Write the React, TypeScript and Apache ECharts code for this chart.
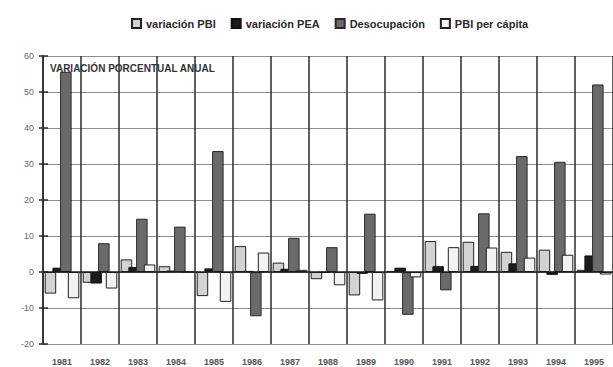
import React, { useEffect, useRef } from "react";
import * as echarts from "echarts";

const years = ["1981","1982","1983","1984","1985","1986","1987","1988","1989","1990","1991","1992","1993","1994","1995"];
const variacionPBI = [-6.0, -3.0, 3.5, 1.6, -6.7, 7.2, 2.6, -2.0, -6.5, 0.3, 8.6, 8.4, 5.6, 6.2, 0.6];
const variacionPEA = [1.2, -3.2, 1.4, 0.4, 1.0, 0.3, 0.9, -0.2, -0.5, 1.2, 1.6, 1.7, 2.4, -0.8, 4.6];
const desocupacion = [55.6, 8.0, 14.8, 12.6, 33.6, -12.3, 9.5, 6.9, 16.2, -11.9, -5.1, 16.3, 32.2, 30.6, 52.1];
const pbiPerCapita = [-7.3, -4.6, 2.1, 0.1, -8.3, 5.4, 0.6, -3.7, -7.9, -1.5, 6.9, 6.8, 4.0, 4.8, -0.7];
const seriesNames = ["variación PBI", "variación PEA", "Desocupación", "PBI per cápita"];
const yMin = -20;
const yMax = 60;
const yStep = 10;

export default function App() {
  const ref = useRef<HTMLDivElement>(null);
  useEffect(() => {
    if (!ref.current) return;
    const chart = echarts.init(ref.current, undefined, { renderer: "svg" });
    const font = "'Liberation Sans', Arial, sans-serif";
    const barCommon = { type: "bar", barWidth: 11.5, barGap: "-33%" };
    chart.setOption({
      animation: false,
      backgroundColor: "#ffffff",
      textStyle: { fontFamily: font },
      legend: {
        top: 13,
        left: 126,
        itemWidth: 9,
        itemHeight: 9,
        itemGap: 15,
        icon: "rect",
        textStyle: { fontSize: 11, fontWeight: "bold", color: "#2a2a2a", fontFamily: font },
        data: seriesNames,
      },
      grid: { left: 43, right: -3, top: 56, bottom: 23 },
      graphic: [
        {
          type: "text",
          left: 50,
          top: 63,
          style: { text: "VARIACIÓN PORCENTUAL ANUAL", font: "bold 10px 'Liberation Sans', Arial, sans-serif", fill: "#333" },
          z: 100,
        },
      ],
      xAxis: {
        type: "category",
        data: years,
        boundaryGap: true,
        axisLine: { show: false },
        axisTick: { show: false },
        axisLabel: { fontSize: 9, fontWeight: "bold", color: "#555", margin: 13 },
        splitLine: { show: true, interval: 0, lineStyle: { color: "#2a2a2a", width: 1.5 } },
      },
      yAxis: [
        {
          type: "value",
          min: yMin,
          max: yMax,
          interval: yStep,
          axisLine: { show: true, lineStyle: { color: "#2a2a2a", width: 1.5 } },
          axisTick: { show: true, length: 4, lineStyle: { color: "#2a2a2a", width: 1.5 } },
          axisLabel: { fontSize: 9, color: "#666", margin: 9 },
          splitLine: { show: true, lineStyle: { color: "#909090", width: 1 } },
        },
        {
          type: "value",
          position: "left",
          min: yMin,
          max: yMax,
          interval: yStep,
          axisLine: { show: false },
          axisTick: { show: true, inside: true, length: 5, lineStyle: { color: "#2a2a2a", width: 1.5 } },
          axisLabel: { show: false },
          splitLine: { show: false },
        },
      ],
      series: [
        {
          ...barCommon,
          name: seriesNames[0],
          data: variacionPBI,
          itemStyle: { color: "#d2d2d2", borderColor: "#222", borderWidth: 1 },
          markLine: {
            silent: true,
            symbol: "none",
            label: { show: false },
            lineStyle: { color: "#1a1a1a", width: 1.5, type: "solid" },
            data: [{ yAxis: 0 }],
            z: 10,
          },
        },
        {
          ...barCommon,
          name: seriesNames[1],
          data: variacionPEA,
          itemStyle: { color: "#1c1c1c", borderColor: "#111", borderWidth: 1 },
        },
        {
          ...barCommon,
          name: seriesNames[2],
          data: desocupacion,
          itemStyle: { color: "#6a6a6a", borderColor: "#2a2a2a", borderWidth: 1 },
        },
        {
          ...barCommon,
          name: seriesNames[3],
          data: pbiPerCapita,
          itemStyle: { color: "#f2f2f2", borderColor: "#222", borderWidth: 1 },
        },
      ],
    });
    return () => chart.dispose();
  }, []);
  return <div ref={ref} style={{ width: 613, height: 367, position: "absolute", left: 0, top: 0 }} />;
}
